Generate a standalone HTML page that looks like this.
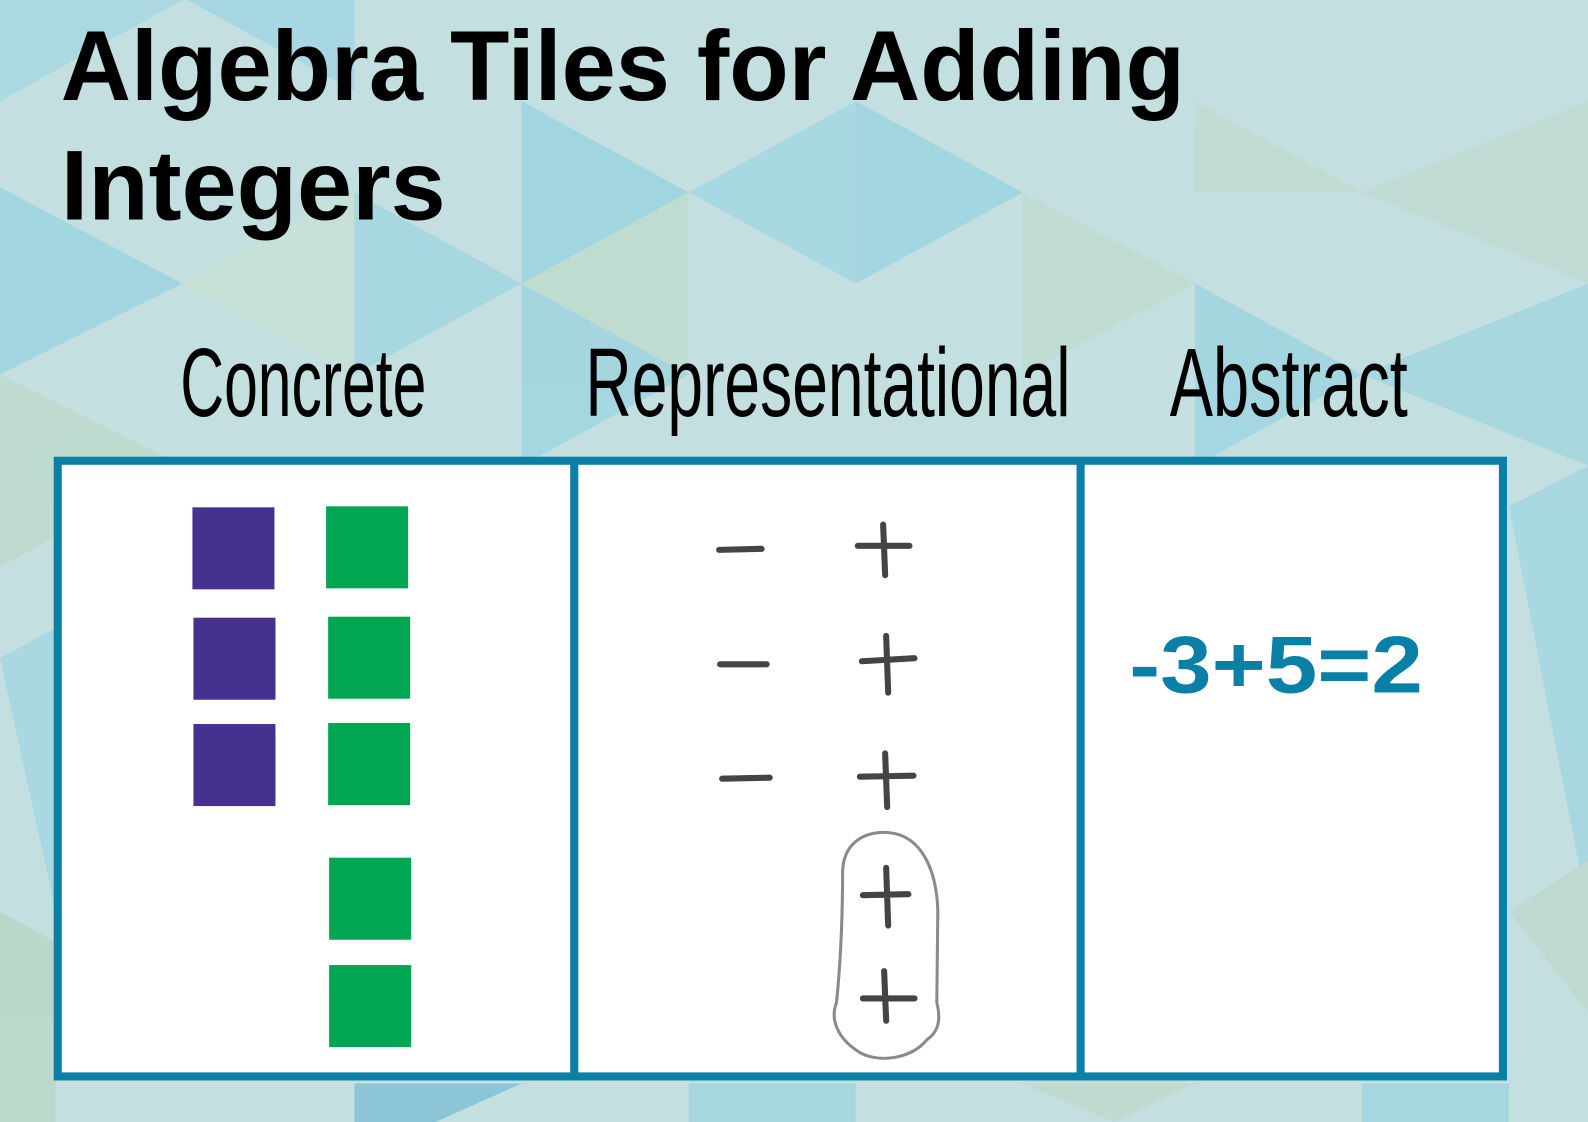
<!DOCTYPE html>
<html><head><meta charset="utf-8"><style>
html,body{margin:0;padding:0;width:1588px;height:1122px;overflow:hidden;background:#c4dfe0}
svg{display:block}
</style></head><body>
<svg width="1588" height="1122" viewBox="0 0 1568 1108" preserveAspectRatio="none" xmlns="http://www.w3.org/2000/svg">
<rect width="1568" height="1108" fill="#c4dfe0"/>
<g opacity="0.9">
<polygon points="0,0 180,0 0,100" fill="#a9d8e2"/>
<polygon points="185,0 350,0 350,90" fill="#a3d6e2"/>
<polygon points="515,100 680,190 515,280" fill="#9ed5e1"/>
<polygon points="680,190 845,100 845,280" fill="#a6d8e2"/>
<polygon points="845,100 1010,190 845,280" fill="#9fd5e0"/>
<polygon points="0,185 180,280 0,370" fill="#9fd5e0"/>
<polygon points="180,280 350,190 350,370" fill="#c8e2d6"/>
<polygon points="350,190 515,280 350,370" fill="#a4d7e2"/>
<polygon points="515,280 680,370 515,460" fill="#a2d6e1"/>
<polygon points="680,190 680,370 515,280" fill="#bfdcd0"/>
<polygon points="1010,190 1180,280 1010,370" fill="#c0dbd0"/>
<polygon points="1180,280 1345,370 1180,460" fill="#a1d6e1"/>
<polygon points="1345,190 1568,100 1568,280" fill="#c0dad3"/>
<polygon points="1180,100 1345,190 1180,190" fill="#c0dbd1"/>
<polygon points="1345,370 1568,280 1568,460" fill="#a7d7e1"/>
<polygon points="0,370 180,460 0,560" fill="#bfdacd"/>
<polygon points="0,650 55,620 55,900" fill="#a6d7e2"/>
<polygon points="1490,500 1568,460 1568,900" fill="#a5d7e1"/>
<polygon points="1490,900 1568,850 1568,1000" fill="#c0dad0"/>
<polygon points="0,900 55,930 55,1108 0,1108" fill="#b9d8c8"/>
<polygon points="350,1070 515,1070 430,1108 350,1108" fill="#86c2d5"/>
<polygon points="680,1070 845,1070 845,1108 680,1108" fill="#a2d6e1"/>
<polygon points="1010,1070 1180,1070 1100,1108" fill="#bfdacd"/>
<polygon points="1345,1070 1490,1070 1490,1108 1345,1108" fill="#a2d6e1"/>
</g>
<text x="60" y="99" font-family="Liberation Sans, sans-serif" font-weight="bold" font-size="98" textLength="1110" lengthAdjust="spacingAndGlyphs" fill="#000">Algebra Tiles for Adding</text>
<text x="60" y="217" font-family="Liberation Sans, sans-serif" font-weight="bold" font-size="98" textLength="380" lengthAdjust="spacingAndGlyphs" fill="#000">Integers</text>
<g font-family="Liberation Sans, sans-serif" font-size="96" fill="#000">
<text x="178" y="411" textLength="243" lengthAdjust="spacingAndGlyphs">Concrete</text>
<text x="578" y="411" textLength="479" lengthAdjust="spacingAndGlyphs">Representational</text>
<text x="1155" y="411" textLength="235" lengthAdjust="spacingAndGlyphs">Abstract</text>
</g>
<rect x="57" y="455" width="1427" height="608" fill="#fff" stroke="#0a80a7" stroke-width="8"/>
<line x1="567" y1="455" x2="567" y2="1063" stroke="#0a80a7" stroke-width="8"/>
<line x1="1067" y1="455" x2="1067" y2="1063" stroke="#0a80a7" stroke-width="8"/>
<g fill="#46318f">
<rect x="190" y="501" width="81" height="81"/>
<rect x="191" y="610" width="81" height="81"/>
<rect x="191" y="715" width="81" height="81"/>
</g>
<g fill="#00a651">
<rect x="322" y="500" width="81" height="81"/>
<rect x="324" y="609" width="81" height="81"/>
<rect x="324" y="714" width="81" height="81"/>
<rect x="325" y="847" width="81" height="81"/>
<rect x="325" y="953" width="81" height="81"/>
</g>
<g stroke="#444" stroke-width="6" stroke-linecap="round" fill="none">
<path d="M710,543 L752,542"/>
<path d="M847,539 L898,539 M872,518 L874,568"/>
<path d="M711,656 L757,656"/>
<path d="M851,653 L903,650 M875,628 L877,684"/>
<path d="M713,769 L760,768"/>
<path d="M849,767 L902,766 M874,744 L876,797"/>
<path d="M852,884 L897,883 M875,857 L877,914"/>
<path d="M852,986 L903,986 M873,959 L875,1008"/>
</g>
<path d="M873,822 C910,822 925,860 926,900 L925,990 C930,1010 925,1020 915,1027 C900,1045 870,1050 850,1040 C825,1025 820,1005 826,990 C830,950 832,900 832,860 C833,835 850,822 873,822 Z" fill="none" stroke="#8a8a8a" stroke-width="3"/>
<text x="1115" y="684" font-family="Liberation Sans, sans-serif" font-weight="bold" font-size="80" fill="#0a80a7" textLength="290" lengthAdjust="spacingAndGlyphs">-3+5=2</text>
</svg>
</body></html>
